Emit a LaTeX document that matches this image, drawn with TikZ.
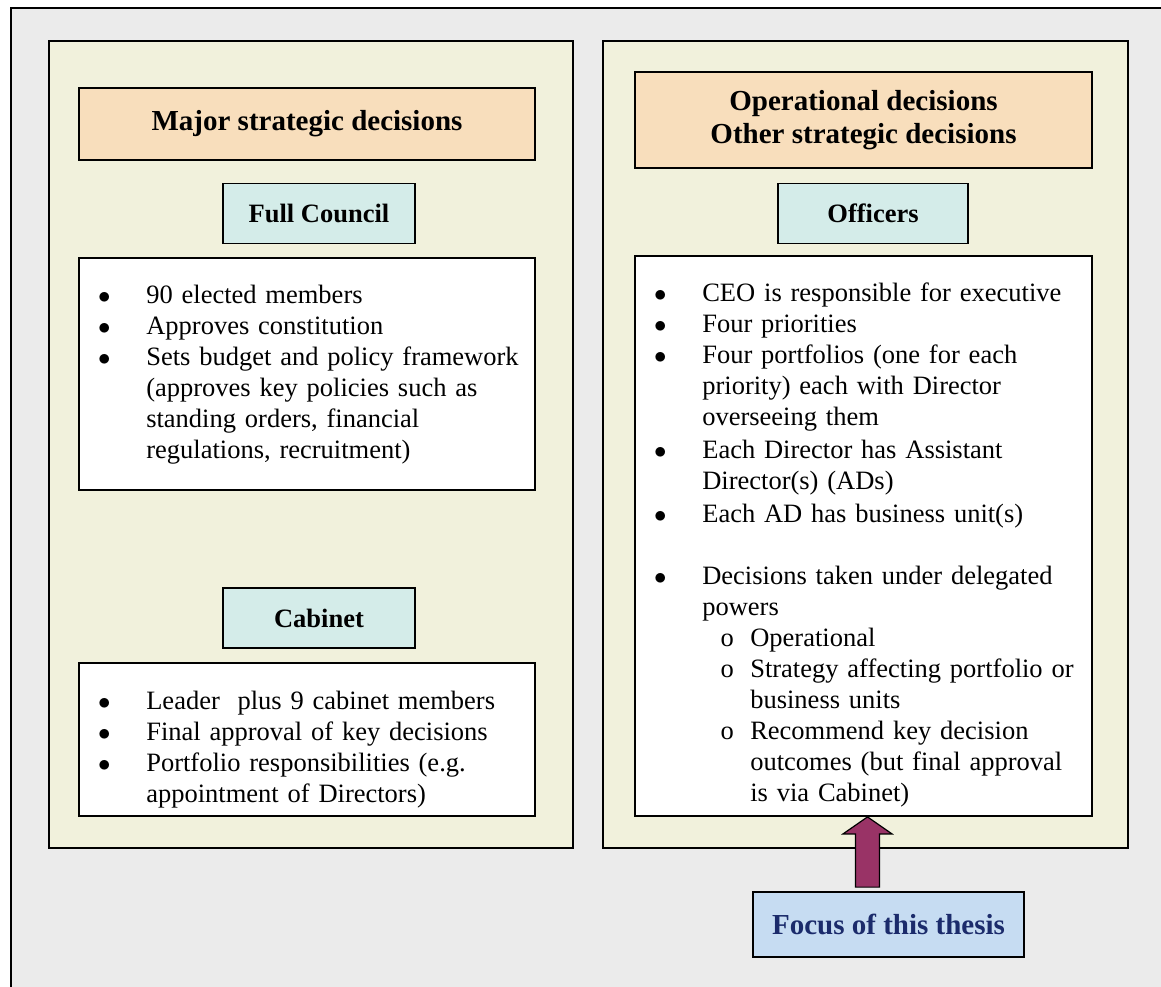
\documentclass[tikz,border=0pt]{standalone}
\usepackage{fontspec}
\setmainfont{Liberation Serif}
\usetikzlibrary{calc}

\definecolor{framegray}{HTML}{EBEBEB}
\definecolor{panelcream}{HTML}{F1F1DC}
\definecolor{titlepeach}{HTML}{F8DEBC}
\definecolor{headcyan}{HTML}{D4ECE9}
\definecolor{arrowplum}{HTML}{993366}
\definecolor{focusblue}{HTML}{C6DCF2}
\definecolor{focusnavy}{HTML}{1B2B6B}

\newcommand{\bodyfont}{\fontsize{26.5}{31}\selectfont}
\newcommand{\headfont}{\fontsize{29}{33}\selectfont\bfseries}
\newcommand{\bitem}[1]{\noindent\hangindent=52pt\hangafter=1\makebox[52pt][l]{\makebox[20pt]{$\bullet$}}\strut#1\par}
\newcommand{\oitem}[1]{\noindent\hangindent=100pt\hangafter=1\makebox[100pt][l]{\hspace{67pt}\makebox[20pt]{o}}\strut#1\par}

\begin{document}
\begin{tikzpicture}[x=1pt, y=-1pt,
  outerframe/.style={draw, line width=1.6pt, fill=framegray, minimum width=1164, minimum height=992},
  panel/.style={draw, line width=2.2pt, fill=panelcream, minimum height=807},
  titlebox/.style={draw, line width=1.8pt, fill=titlepeach, align=center, font=\headfont},
  headbox/.style={draw, line width=1.8pt, fill=headcyan, minimum width=192, minimum height=60, font=\bodyfont\bfseries},
  listbox/.style={draw, line width=1.8pt, fill=white},
  listtext/.style={anchor=north west, inner sep=0, text width=430, align=left, font=\bodyfont},
  fatarrow/.style={draw, line width=1.2pt, fill=arrowplum},
  focusbox/.style={draw, line width=1.8pt, fill=focusblue, text=focusnavy, font=\headfont, minimum width=271, minimum height=65},
]
\clip (0,0) rectangle (1161,986);

\node (frame) [outerframe] at (593,504) {};

\node (leftpanel) [panel, minimum width=524] at (311,444.5) {};
\node (rightpanel) [panel, minimum width=525] at (865.5,444.5) {};

% left side: council and cabinet
\node (major) [titlebox, minimum width=456, minimum height=72] at (307,124) {Major strategic decisions};
\node (fullcouncil) [headbox] at (319,213.5) {Full Council};
\node (fcduties) [listbox, minimum width=456, minimum height=232] at (307,374) {};
\node (fclist) [listtext] at ([xshift=16,yshift=-24.5]fcduties.north west) {%
  \bitem{90 elected members}
  \bitem{Approves constitution}
  \bitem{Sets budget and policy framework\newline (approves key policies such as\newline standing orders, financial\newline regulations, recruitment)}};

\node (cabinet) [headbox] at (319,618) {Cabinet};
\node (cabduties) [listbox, minimum width=456, minimum height=153] at (307,739.5) {};
\node (cablist) [listtext] at ([xshift=16,yshift=-25.5]cabduties.north west) {%
  \bitem{Leader\ \ plus 9 cabinet members}
  \bitem{Final approval of key decisions}
  \bitem{Portfolio responsibilities (e.g.\newline appointment of Directors)}};

% right side: officers
\node (ops) [titlebox, minimum width=457, minimum height=96] at (863.5,120) {Operational decisions\\Other strategic decisions};
\node (officers) [headbox, minimum width=190] at (873,213.5) {Officers};
\node (offduties) [listbox, minimum width=457, minimum height=560] at (863.5,536) {};
\node (offlist) [listtext] at ([xshift=16,yshift=-24.5]offduties.north west) {%
  \bitem{CEO is responsible for executive}
  \bitem{Four priorities}
  \bitem{Four portfolios (one for each\newline priority) each with Director\newline overseeing them}
  \vspace{2pt}
  \bitem{Each Director has Assistant\newline Director(s) (ADs)}
  \vspace{2pt}
  \bitem{Each AD has business unit(s)}
  \vspace{31pt}
  \bitem{Decisions taken under delegated\newline powers}
  \oitem{Operational}
  \oitem{Strategy affecting portfolio or\newline business units}
  \oitem{Recommend key decision\newline outcomes (but final approval\newline is via Cabinet)}};

\node (focus) [focusbox] at (888.5,924.5) {Focus of this thesis};

\coordinate (tip) at ([xshift=4]offduties.south);
\coordinate (tailbase) at (tip |- focus.north);
\coordinate (tail) at ([yshift=4]tailbase);
\draw[fatarrow]
  (tip) -- ([xshift=24.5,yshift=-17]tip) -- ([xshift=12,yshift=-17]tip)
  -- ([xshift=12]tail) -- ([xshift=-12]tail)
  -- ([xshift=-12,yshift=-17]tip) -- ([xshift=-24.5,yshift=-17]tip) -- cycle;

\end{tikzpicture}
\end{document}
